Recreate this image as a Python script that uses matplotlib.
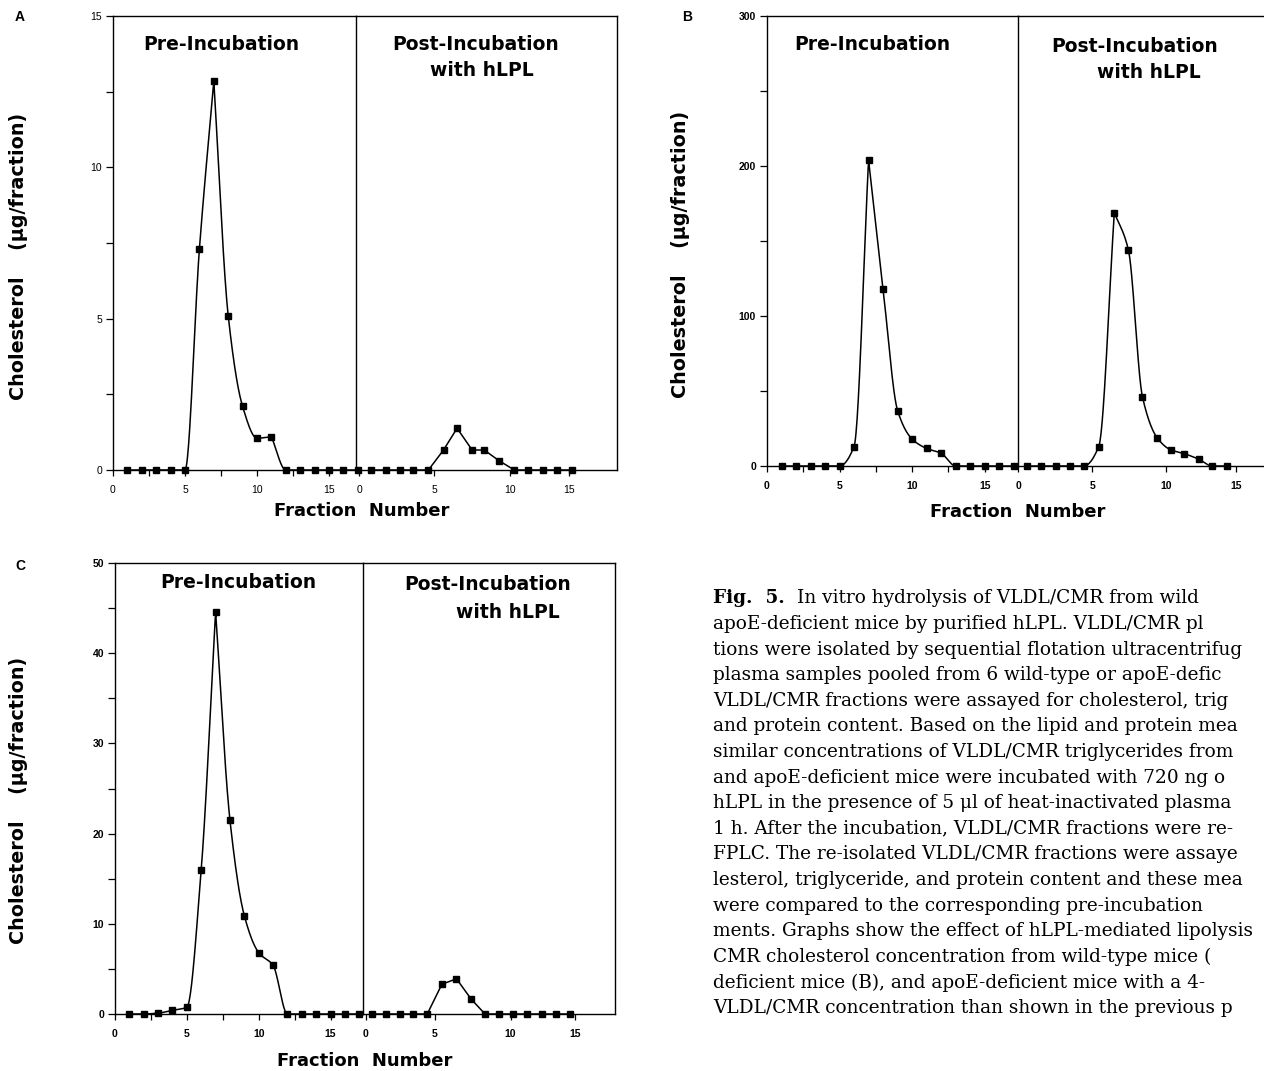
import numpy as np
import matplotlib
matplotlib.use("Agg")
import matplotlib.pyplot as plt
from matplotlib.ticker import MultipleLocator

W, H = 1264, 1071

# fractions; pre-incubation points sit on 1..17
PRE_X = list(range(1, 18))

A_PRE = [0, 0, 0, 0, 0, 7.3, 12.85, 5.1, 2.1, 1.05, 1.1, 0, 0, 0, 0, 0, 0]
A_POST_X = [0.8, 1.8, 2.7, 3.6, 4.6, 5.6, 6.5, 7.5, 8.3, 9.3, 10.3, 11.2, 12.2, 13.1, 14.1]
A_POST = [0, 0, 0, 0, 0, 0.66, 1.38, 0.66, 0.66, 0.3, 0, 0, 0, 0, 0]

B_PRE = [0, 0, 0, 0, 0, 13, 204, 118, 37, 18, 11.7, 8.5, 0, 0, 0, 0, 0]
B_POST_X = [0.6, 1.55, 2.55, 3.5, 4.45, 5.45, 6.5, 7.45, 8.4, 9.4, 10.3, 11.2, 12.2, 13.1, 14.1]
B_POST = [0, 0, 0, 0, 0, 13, 169, 144, 46, 18.7, 10.8, 8.3, 4.5, 0, 0]

C_PRE = [0, 0, 0.1, 0.4, 0.75, 16, 44.6, 21.5, 10.9, 6.8, 5.4, 0, 0, 0, 0, 0, 0]
C_POST_X = [0.4, 1.4, 2.3, 3.2, 4.2, 5.2, 6.2, 7.2, 8.15, 9.1, 10.05, 11.05, 12.05, 13.0, 14.0]
C_POST = [0, 0, 0, 0, 0, 3.3, 3.9, 1.66, 0, 0, 0, 0, 0, 0, 0]

X_TICKS = [0, 5, 10, 15]
X_TICK_LABELS = ["0", "5", "10", "15"]

CAPTION = [
    "apoE-deficient mice by purified hLPL. VLDL/CMR pl",
    "tions were isolated by sequential flotation ultracentrifug",
    "plasma samples pooled from 6 wild-type or apoE-defic",
    "VLDL/CMR fractions were assayed for cholesterol, trig",
    "and protein content. Based on the lipid and protein mea",
    "similar concentrations of VLDL/CMR triglycerides from",
    "and apoE-deficient mice were incubated with 720 ng o",
    "hLPL in the presence of 5 \u03bcl of heat-inactivated plasma",
    "1 h. After the incubation, VLDL/CMR fractions were re-",
    "FPLC. The re-isolated VLDL/CMR fractions were assaye",
    "lesterol, triglyceride, and protein content and these mea",
    "were compared to the corresponding pre-incubation",
    "ments. Graphs show the effect of hLPL-mediated lipolysis",
    "CMR cholesterol concentration from wild-type mice (",
    "deficient mice (B), and apoE-deficient mice with a 4-",
    "VLDL/CMR concentration than shown in the previous p",
]

SANS = ["Liberation Sans", "DejaVu Sans"]
TITLE_FONT = ["DejaVu Sans"]
TITLE_SIZE = 13.5


def smooth_curve(x, y, n=400):
    # monotone cubic through the points; peaks keep a sharp corner
    x = np.asarray(x, float)
    y = np.asarray(y, float)
    h = np.diff(x)
    d = np.diff(y) / h
    m = np.zeros_like(y)
    m[0], m[-1] = d[0], d[-1]
    for k in range(1, len(x) - 1):
        if d[k - 1] * d[k] > 0:
            w1 = 2 * h[k] + h[k - 1]
            w2 = h[k] + 2 * h[k - 1]
            m[k] = (w1 + w2) / (w1 / d[k - 1] + w2 / d[k])
    m_in, m_out = m.copy(), m.copy()
    for k in range(1, len(x) - 1):
        if d[k - 1] > 0 and d[k] < 0:
            m_in[k], m_out[k] = d[k - 1], d[k]
    xs = np.linspace(x[0], x[-1], n)
    i = np.clip(np.searchsorted(x, xs) - 1, 0, len(x) - 2)
    t = (xs - x[i]) / h[i]
    h00 = 2 * t**3 - 3 * t**2 + 1
    h10 = t**3 - 2 * t**2 + t
    h01 = -2 * t**3 + 3 * t**2
    h11 = t**3 - t**2
    ys = h00 * y[i] + h10 * h[i] * m_out[i] + h01 * y[i + 1] + h11 * h[i] * m_in[i + 1]
    return xs, ys


def px_axes(fig, left, right, top, bottom):
    return fig.add_axes([left / W, 1 - bottom / H, (right - left) / W, (bottom - top) / H])


def trace(ax, x, y, smooth):
    if smooth:
        xs, ys = smooth_curve(x, y)
        ax.plot(xs, ys, color="black", lw=1.1, clip_on=False, zorder=3)
    else:
        ax.plot(x, y, color="black", lw=1.1, clip_on=False, zorder=3)
    ax.plot(x, y, "s", color="black", ms=4.8, clip_on=False, zorder=4)


def style_x(ax, ticks, bold):
    ax.set_xticks(ticks)
    ax.set_xticklabels(X_TICK_LABELS, fontsize=7.5, family=SANS,
                       fontweight="bold" if bold else "normal")
    ax.tick_params(axis="x", direction="out", length=4, width=0.9, pad=7)
    ax.tick_params(axis="x", which="minor", direction="out", length=4, width=0.9)


def panel(fig, geom, ylim, ymaj, ymin, pre, post_x, post, post_ticks,
          post_lim, smooth_post, bold_ticks, title_pos, right_spine=True):
    left, mid, right, top, bottom, pre_max = geom
    ax1 = px_axes(fig, left, mid, top, bottom)
    ax2 = px_axes(fig, mid, right, top, bottom)
    for ax in (ax1, ax2):
        ax.set_ylim(*ylim)
        ax.patch.set_alpha(0)
        for s in ax.spines.values():
            s.set_linewidth(1.0)
    ax1.set_xlim(0, pre_max)
    ax2.set_xlim(*post_lim)

    ax1.yaxis.set_major_locator(MultipleLocator(ymaj))
    ax1.yaxis.set_minor_locator(MultipleLocator(ymin))
    ax1.tick_params(axis="y", which="both", direction="out", length=5, width=0.9, pad=3)
    for lab in ax1.get_yticklabels():
        lab.set_fontsize(7.5)
        lab.set_family(SANS)
        lab.set_fontweight("bold" if bold_ticks else "normal")
    ax1.xaxis.set_minor_locator(MultipleLocator(2.5))
    style_x(ax1, X_TICKS, bold_ticks)

    ax2.set_yticks([])
    ax2.spines["left"].set_visible(False)
    ax2.spines["right"].set_visible(right_spine)
    style_x(ax2, post_ticks, bold_ticks)

    trace(ax1, PRE_X, pre, True)
    trace(ax2, post_x, post, smooth_post)

    (px, py), (qx, qy), (rx, ry) = title_pos
    for (x, y), txt in [((px, py), "Pre-Incubation"), ((qx, qy), "Post-Incubation"),
                        ((rx, ry), "with hLPL")]:
        fig.text(x / W, 1 - y / H, txt, ha="center", va="center",
                 fontsize=TITLE_SIZE, fontweight="bold", family=TITLE_FONT)


fig = plt.figure(figsize=(W / 100, H / 100), dpi=100)

# A
panel(fig, (113, 356, 617, 16, 470, 16.875), (0, 15), 5, 2.5,
      A_PRE, A_POST_X, A_POST, [0, 5, 10, 13.9], (-0.2, 17.1), False, False,
      ((221, 45), (476, 45), (482, 70)))
# B
panel(fig, (767, 1018, 1264, 16, 466, 17.3), (0, 300), 100, 50,
      B_PRE, B_POST_X, B_POST, [0, 5, 10, 14.7], (0, 16.6), True, True,
      ((872, 45), (1135, 46), (1149, 72)), right_spine=False)
# C
panel(fig, (115, 363, 615, 563, 1014, 17.26), (0, 50), 10, 5,
      C_PRE, C_POST_X, C_POST, [0, 4.7, 9.9, 14.3], (-0.2, 17.05), False, True,
      ((238, 583), (488, 585), (508, 612)))

ylab = "Cholesterol    (\u03bcg/fraction)"
for x, y in [(19, 256), (681, 254), (19, 800)]:
    fig.text(x / W, 1 - y / H, ylab, rotation=90, ha="center", va="center",
             fontsize=13.8, fontweight="bold", family=TITLE_FONT)
for x, y in [(362, 511), (1018, 512), (365, 1061)]:
    fig.text(x / W, 1 - y / H, "Fraction  Number", ha="center", va="center",
             fontsize=13, fontweight="bold", family=TITLE_FONT)
for lab, x, y in [("A", 15, 17), ("B", 682, 17), ("C", 15, 566)]:
    fig.text(x / W, 1 - y / H, lab, ha="left", va="center",
             fontsize=10, fontweight="bold", family=SANS)

# caption, running up to the right edge like the scan
serif = ["DejaVu Serif"]
cap_size = 13.35
fig.text(713 / W, 1 - 598 / H, "Fig.  5.", ha="left", va="center",
         fontsize=cap_size, fontweight="bold", family=serif)
fig.text(797 / W, 1 - 598 / H, "In vitro hydrolysis of VLDL/CMR from wild",
         ha="left", va="center", fontsize=cap_size, family=serif)
for i, line in enumerate(CAPTION):
    fig.text(713 / W, 1 - (624 + 25.6 * i) / H, line, ha="left", va="center",
             fontsize=cap_size, family=serif)

fig.savefig("out.png", dpi=100)
